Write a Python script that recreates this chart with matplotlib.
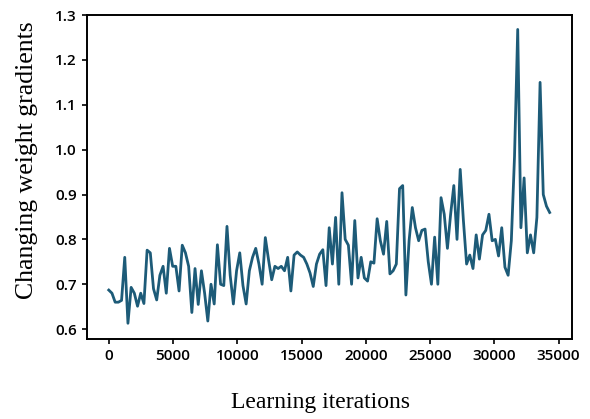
import matplotlib

matplotlib.use("Agg")
import matplotlib.pyplot as plt  # noqa: E402
import numpy as np  # noqa: E402

GRADIENTS = [
    0.687, 0.680, 0.660, 0.660, 0.664, 0.760, 0.613, 0.693, 0.680, 0.651,
    0.680, 0.657, 0.776, 0.770, 0.690, 0.665, 0.720, 0.740, 0.680, 0.780,
    0.740, 0.740, 0.685, 0.787, 0.770, 0.740, 0.637, 0.735, 0.655, 0.730,
    0.680, 0.618, 0.700, 0.656, 0.788, 0.700, 0.697, 0.829, 0.720, 0.656,
    0.730, 0.770, 0.697, 0.656, 0.730, 0.760, 0.780, 0.745, 0.700, 0.804,
    0.755, 0.710, 0.740, 0.735, 0.740, 0.730, 0.760, 0.685, 0.765, 0.772,
    0.765, 0.760, 0.745, 0.725, 0.695, 0.745, 0.767, 0.777, 0.697, 0.826,
    0.745, 0.849, 0.700, 0.904, 0.800, 0.787, 0.700, 0.842, 0.714, 0.760,
    0.714, 0.707, 0.750, 0.747, 0.846, 0.797, 0.767, 0.840, 0.723, 0.730,
    0.745, 0.913, 0.920, 0.676, 0.797, 0.871, 0.826, 0.797, 0.820, 0.823,
    0.750, 0.700, 0.805, 0.700, 0.893, 0.856, 0.780, 0.856, 0.920, 0.800,
    0.956, 0.842, 0.745, 0.765, 0.735, 0.810, 0.756, 0.810, 0.820, 0.856,
    0.797, 0.800, 0.763, 0.826, 0.738, 0.720, 0.797, 0.985, 1.268, 0.826,
    0.937, 0.770, 0.810, 0.770, 0.849, 1.150, 0.900, 0.874, 0.860,
]
LAST_ITERATION = 34300
XTICKS = [0, 5000, 10000, 15000, 20000, 25000, 30000, 35000]
YTICKS = [0.6, 0.7, 0.8, 0.9, 1.0, 1.1, 1.2, 1.3]

LINE_COLOR = "#1d5b78"
LABEL_FONT = "Liberation Serif"
TICK_FONT = "Open Sans"

iterations = np.linspace(0, LAST_ITERATION, len(GRADIENTS))

fig, ax = plt.subplots(figsize=(5.9, 4.19), dpi=100)
fig.subplots_adjust(left=0.147, right=0.969, top=0.964, bottom=0.191)

ax.plot(iterations, GRADIENTS, color=LINE_COLOR, linewidth=2.0)

ax.set_xticks(XTICKS)
ax.set_yticks(YTICKS)
ax.set_ylim(0.578, 1.30)
ax.tick_params(labelsize=11, width=1.2)
for label in ax.get_xticklabels() + ax.get_yticklabels():
    label.set_family(TICK_FONT)
    label.set_fontweight("semibold")
for spine in ax.spines.values():
    spine.set_linewidth(1.4)

ax.set_xlabel("Learning iterations", fontsize=17, family=LABEL_FONT)
ax.set_ylabel("Changing weight gradients", fontsize=18.5, family=LABEL_FONT)
ax.xaxis.set_label_coords(0.482, -0.165)
ax.yaxis.set_label_coords(-0.101, 0.552)

fig.savefig("out.png", dpi=100)
plt.close(fig)
